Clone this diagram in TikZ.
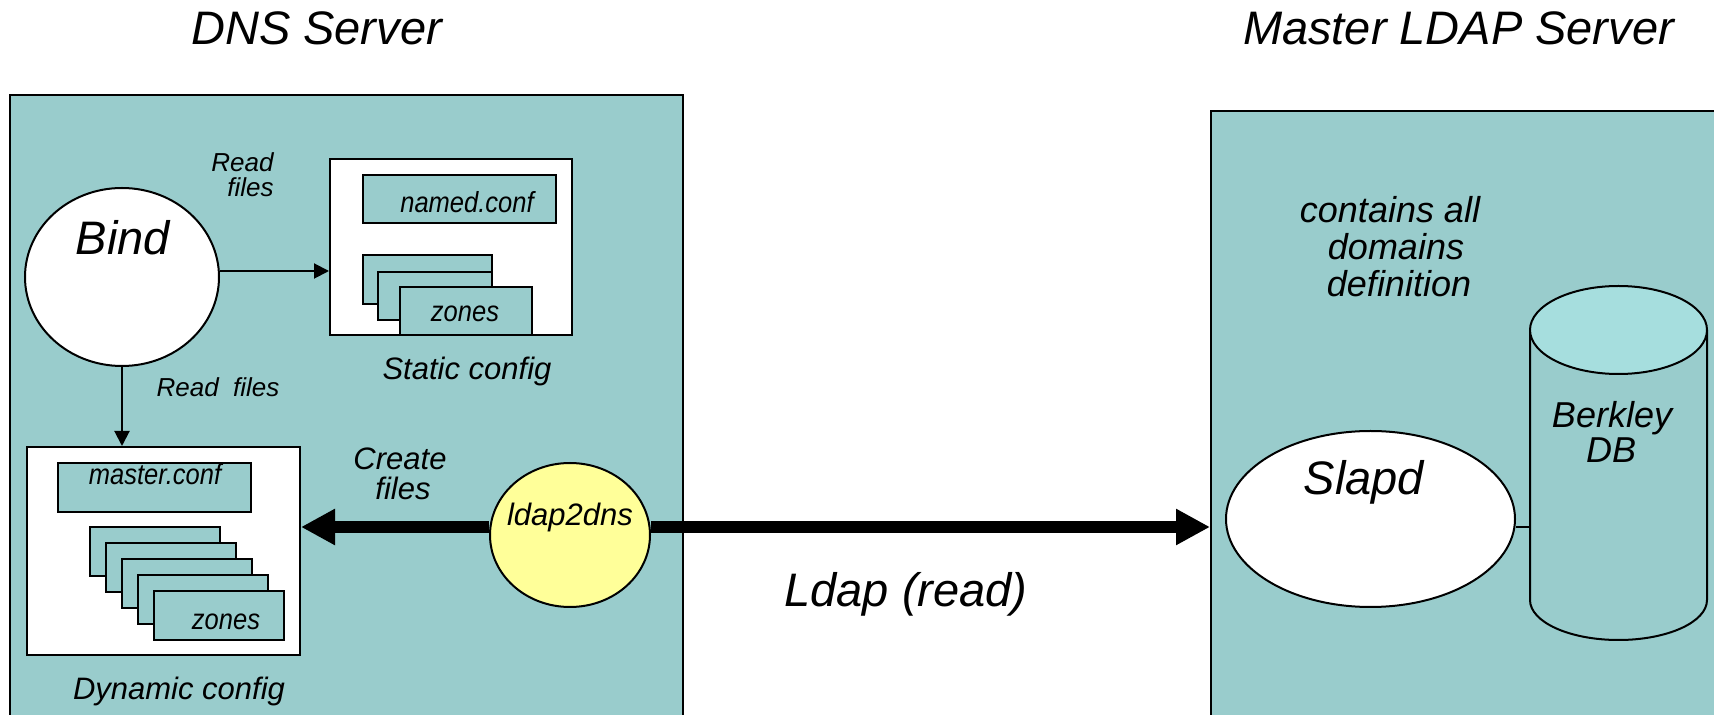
\documentclass[tikz,border=0pt]{standalone}
\usepackage{fontspec}
\setmainfont{Liberation Sans}
\newfontfamily\narrowfont{Liberation Sans}[FakeStretch=0.88]
\usetikzlibrary{arrows.meta,shapes.geometric}
\definecolor{srvfill}{HTML}{99CCCC}
\definecolor{dbtop}{HTML}{A6DEDE}
\definecolor{procy}{HTML}{FFFF99}
\begin{document}
\begin{tikzpicture}[x=0.5pt,y=-0.5pt,
  box/.style={draw, line width=1pt, inner sep=0pt, anchor=north west},
  server/.style={box, fill=srvfill},
  panel/.style={box, fill=white},
  filebox/.style={box, fill=srvfill},
  proc/.style={draw, line width=1pt, ellipse, inner sep=0pt},
  thinarrow/.style={line width=1pt, -{Triangle[length=7.5pt,width=7.5pt]}},
  fatarrow/.style={line width=6pt, -{Triangle[length=17pt,width=17pt]}},
  txt/.style={inner sep=0pt, anchor=base},
  titletext/.style={txt, font=\fontsize{23.5}{28}\selectfont\itshape},
  bigtext/.style={txt, font=\fontsize{23.5}{28}\selectfont\itshape},
  midtext/.style={txt, font=\fontsize{18}{22}\selectfont\itshape},
  labeltext/.style={txt, font=\fontsize{15.5}{18}\selectfont\itshape},
  smalltext/.style={txt, font=\fontsize{13}{16}\selectfont\itshape},
  filetext/.style={txt, font=\narrowfont\fontsize{14.5}{17}\selectfont\itshape}
]
\useasboundingbox (0,0) rectangle (1714,715);
\clip (0,0) rectangle (1714,715);

% server boxes
\node[server, minimum width=336.5pt, minimum height=323pt] (dns) at (9,94) {};
\node[server, minimum width=265pt, minimum height=315pt] (ldap) at (1210,110) {};

% static config
\node[panel, minimum width=121pt, minimum height=88pt] (static) at (329,158) {};
\node[filebox, minimum width=96.5pt, minimum height=24pt] (named) at (362,174) {};
\node[filebox, minimum width=64.5pt, minimum height=24.5pt] (sz1) at (362,254) {};
\node[filebox, minimum width=57pt, minimum height=24pt] (sz2) at (377,271) {};
\node[filebox, minimum width=66pt, minimum height=24pt] (sz3) at (399,286) {};

% dynamic config
\node[panel, minimum width=136.5pt, minimum height=104pt] (dyn) at (26,446) {};
\node[filebox, minimum width=96.5pt, minimum height=24.5pt] (master) at (57,462) {};
\node[filebox, minimum width=65pt, minimum height=24.5pt] (dz1) at (89,526) {};
\node[filebox, minimum width=65pt, minimum height=24.5pt] (dz2) at (105,542) {};
\node[filebox, minimum width=65pt, minimum height=24.5pt] (dz3) at (121,558) {};
\node[filebox, minimum width=65pt, minimum height=24.5pt] (dz4) at (137,574) {};
\node[filebox, minimum width=65pt, minimum height=24.5pt] (dz5) at (153,590) {};

% processes
\node[proc, fill=white, minimum width=97pt, minimum height=89pt] (bind) at (122,277) {};
\node[proc, fill=procy, minimum width=80pt, minimum height=72pt] (l2d) at (570,535) {};
\node[proc, fill=white, minimum width=144.5pt, minimum height=88pt] (slapd) at (1370.5,519) {};

% database cylinder
\path[draw, line width=1pt, fill=srvfill] (1530,330) -- (1530,600)
  arc[start angle=180, end angle=0, x radius=88.5, y radius=40] -- (1707,330);
\draw[line width=1pt, fill=dbtop] (1618.5,330) ellipse [x radius=88.5, y radius=44];
\coordinate (dbl) at (1530,527);

% connectors
\coordinate (bo) at ([yshift=3pt]bind.east);
\draw[thinarrow] (bo) -- (bo -| static.west);
\draw[thinarrow] (bind.south) -- (bind.south |- dyn.north);
\coordinate (lw) at ([yshift=4pt]l2d.west);
\coordinate (le) at ([yshift=4pt]l2d.east);
\draw[fatarrow] (lw) -- (lw -| dyn.east);
\draw[fatarrow] (le) -- (le -| ldap.west);
\coordinate (se) at ([yshift=-4pt]slapd.east);
\draw[line width=1pt] (se) -- (se -| dbl);

% texts
\node[titletext] (t1) at (316.5,45) {DNS Server};
\node[titletext] (t2) at (1458.5,45) {Master LDAP Server};
\node[bigtext] (tbind) at (123,255) {Bind};
\node[smalltext, anchor=base east] (rf1a) at (274,172) {Read};
\node[smalltext, anchor=base east] (rf1b) at (274,197) {files};
\node[smalltext] (rf2) at (218,397) {Read\ \ files};
\node[labeltext] (tstatic) at (467,380) {Static config};
\node[filetext] (tnamed) at (467,213) {named.conf};
\node[filetext] (tsz) at (465,322) {zones};
\node[filetext] (tmaster) at (155,485) {master.conf};
\node[filetext] (tdz) at (226,630) {zones};
\node[labeltext] (tdyn) at (179,700) {Dynamic config};
\node[labeltext] (tcr1) at (400,470) {Create};
\node[labeltext] (tcr2) at (403,500) {files};
\node[labeltext] (tl2d) at (570,526) {ldap2dns};
\node[bigtext] (tldap) at (906,607) {Ldap (read)};
\node[midtext] (tc1) at (1390,223) {contains all};
\node[midtext] (tc2) at (1396,260) {domains};
\node[midtext] (tc3) at (1399,297) {definition};
\node[bigtext] (tslapd) at (1364,495) {Slapd};
\node[midtext] (tdb1) at (1612,428) {Berkley};
\node[midtext] (tdb2) at (1611,463) {DB};
\end{tikzpicture}
\end{document}
